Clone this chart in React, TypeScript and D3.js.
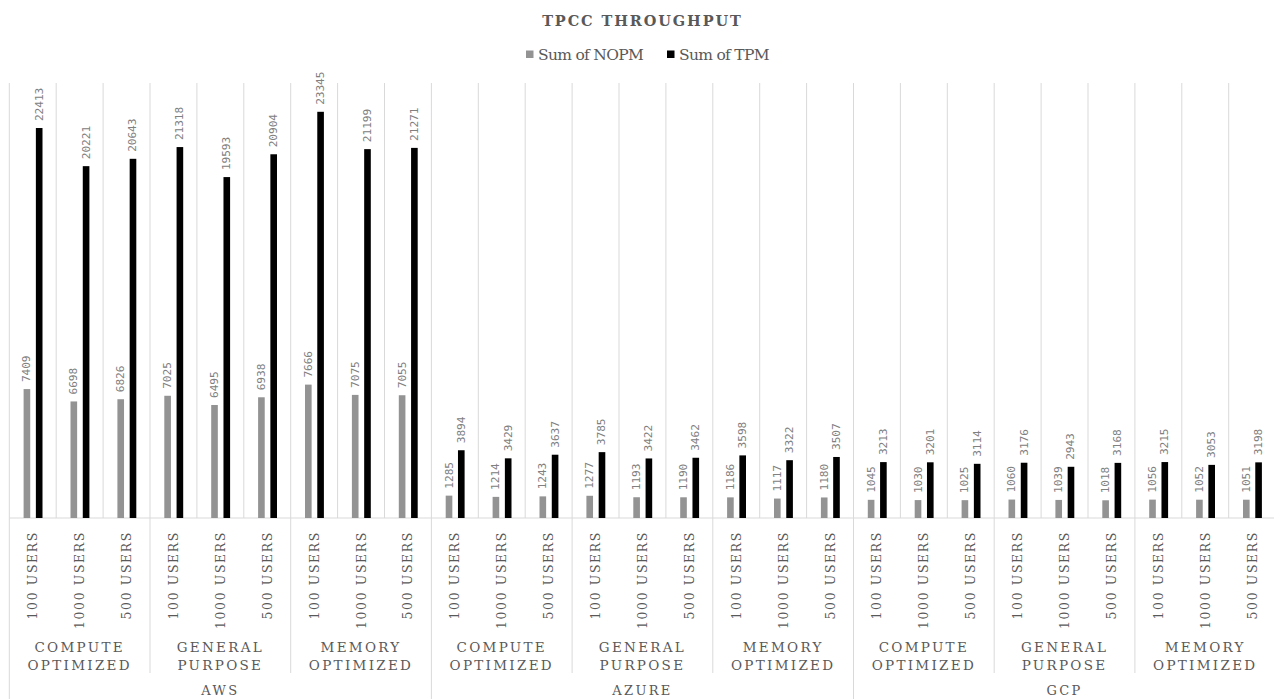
import React from "react";
import * as d3 from "d3";

// Chart data
const platforms = ["AWS", "AZURE", "GCP"];
const instanceTypes = [
  ["COMPUTE", "OPTIMIZED"],
  ["GENERAL", "PURPOSE"],
  ["MEMORY", "OPTIMIZED"],
];
const userLoads = ["100 USERS", "1000 USERS", "500 USERS"];
const seriesNames = ["Sum of NOPM", "Sum of TPM"];

// One value per (platform, instance type, user load), in that nesting order
const nopm = [
  7409, 6698, 6826, 7025, 6495, 6938, 7666, 7075, 7055,
  1285, 1214, 1243, 1277, 1193, 1190, 1186, 1117, 1180,
  1045, 1030, 1025, 1060, 1039, 1018, 1056, 1052, 1051,
];
const tpm = [
  22413, 20221, 20643, 21318, 19593, 20904, 23345, 21199, 21271,
  3894, 3429, 3637, 3785, 3422, 3462, 3598, 3322, 3507,
  3213, 3201, 3114, 3176, 2943, 3168, 3215, 3053, 3198,
];

const W = 1274;
const H = 699;
const plotLeft = 9.3;
const plotRight = 1275.6;
const plotTop = 83;
const baseY = 518;

const serif = "'DejaVu Serif', serif";
const labelFont = "'DejaVu Sans Mono', monospace";
const gridColor = "#d9d9d9";
const textColor = "#595959";
const seriesColors = ["#939393", "#000000"];

export default function App() {
  const n = nopm.length;
  const idx = d3.range(n).map(String);
  const x = d3.scaleBand<string>().domain(idx).range([plotLeft, plotRight]).paddingInner(0);
  const step = x.bandwidth();
  const inner = d3
    .scaleBand<string>()
    .domain(seriesNames)
    .range([14.3, 33.2])
    .paddingInner(0.46);
  const y = d3.scaleLinear().domain([0, 25000]).range([baseY, plotTop]);
  const values = [nopm, tpm];

  const perPlatform = instanceTypes.length * userLoads.length;
  const center = (start: number, count: number) =>
    (x(String(start))! + x(String(start + count - 1))! + step) / 2;
  const midX = (plotLeft + plotRight) / 2;

  return (
    <svg
      width={W}
      height={H}
      style={{ position: "absolute", left: 0, top: 0, background: "#fff" }}
    >
      {/* title */}
      <text
        x={midX}
        y={20}
        textAnchor="middle"
        dominantBaseline="central"
        fontFamily={serif}
        fontWeight="bold"
        fontSize={14.5}
        letterSpacing={1.9}
        fill={textColor}
      >
        TPCC THROUGHPUT
      </text>

      {/* legend */}
      {seriesNames.map((s, i) => {
        const lx = i === 0 ? 526 : 667;
        return (
          <g key={s}>
            <rect x={lx} y={50.5} width={7.5} height={7.5} fill={seriesColors[i]} />
            <text
              x={lx + 12}
              y={54.5}
              dominantBaseline="central"
              fontFamily={serif}
              fontSize={15.5}
              letterSpacing={-0.7}
              fill={textColor}
            >
              {s}
            </text>
          </g>
        );
      })}

      {/* vertical gridlines in plot area */}
      {d3.range(n + 1).map((i) => {
        const gx = plotLeft + i * step;
        return (
          <line key={"g" + i} x1={gx} x2={gx} y1={plotTop} y2={baseY} stroke={gridColor} strokeWidth={1} />
        );
      })}
      <line x1={plotLeft} x2={plotRight} y1={baseY} y2={baseY} stroke={gridColor} strokeWidth={1} />

      {/* separators in the axis label area */}
      {d3.range(platforms.length * instanceTypes.length + 1).map((k) => {
        const gx = plotLeft + k * userLoads.length * step;
        const full = k % instanceTypes.length === 0;
        return (
          <line
            key={"s" + k}
            x1={gx}
            x2={gx}
            y1={baseY}
            y2={full ? H : 673}
            stroke={gridColor}
            strokeWidth={1}
          />
        );
      })}

      {/* bars and value labels */}
      {idx.map((key, i) => (
        <g key={"b" + key}>
          {values.map((vals, si) => {
            const bx = x(key)! + inner(seriesNames[si])!;
            const bw = inner.bandwidth();
            const v = vals[i];
            const cx = bx + bw / 2;
            return (
              <g key={si}>
                <rect x={bx} y={y(v)} width={bw} height={baseY - y(v)} fill={seriesColors[si]} />
                <text
                  transform={`translate(${cx},${y(v) - 7}) rotate(-90)`}
                  textAnchor="start"
                  dominantBaseline="central"
                  fontFamily={labelFont}
                  fontSize={11.2}
                  letterSpacing={-0.1}
                  fill="#808080"
                >
                  {v}
                </text>
              </g>
            );
          })}
        </g>
      ))}

      {/* user-load labels */}
      {idx.map((key, i) => (
        <text
          key={"u" + key}
          transform={`translate(${x(key)! + step / 2},${531}) rotate(-90)`}
          textAnchor="end"
          dominantBaseline="central"
          fontFamily={serif}
          fontSize={12.5}
          letterSpacing={1.6}
          fill={textColor}
        >
          {userLoads[i % userLoads.length]}
        </text>
      ))}

      {/* instance-type labels */}
      {platforms.map((p, pi) =>
        instanceTypes.map((lines, ti) => {
          const start = pi * perPlatform + ti * userLoads.length;
          const cx = center(start, userLoads.length);
          return lines.map((ln, li) => (
            <text
              key={`t${pi}-${ti}-${li}`}
              x={cx}
              y={647 + li * 17.5}
              textAnchor="middle"
              dominantBaseline="central"
              fontFamily={serif}
              fontSize={13.5}
              letterSpacing={2.3}
              fill={textColor}
            >
              {ln}
            </text>
          ));
        })
      )}

      {/* platform labels */}
      {platforms.map((p, pi) => (
        <text
          key={"p" + p}
          x={center(pi * perPlatform, perPlatform)}
          y={690.5}
          textAnchor="middle"
          dominantBaseline="central"
          fontFamily={serif}
          fontSize={13}
          letterSpacing={2.3}
          fill={textColor}
        >
          {p}
        </text>
      ))}
    </svg>
  );
}
